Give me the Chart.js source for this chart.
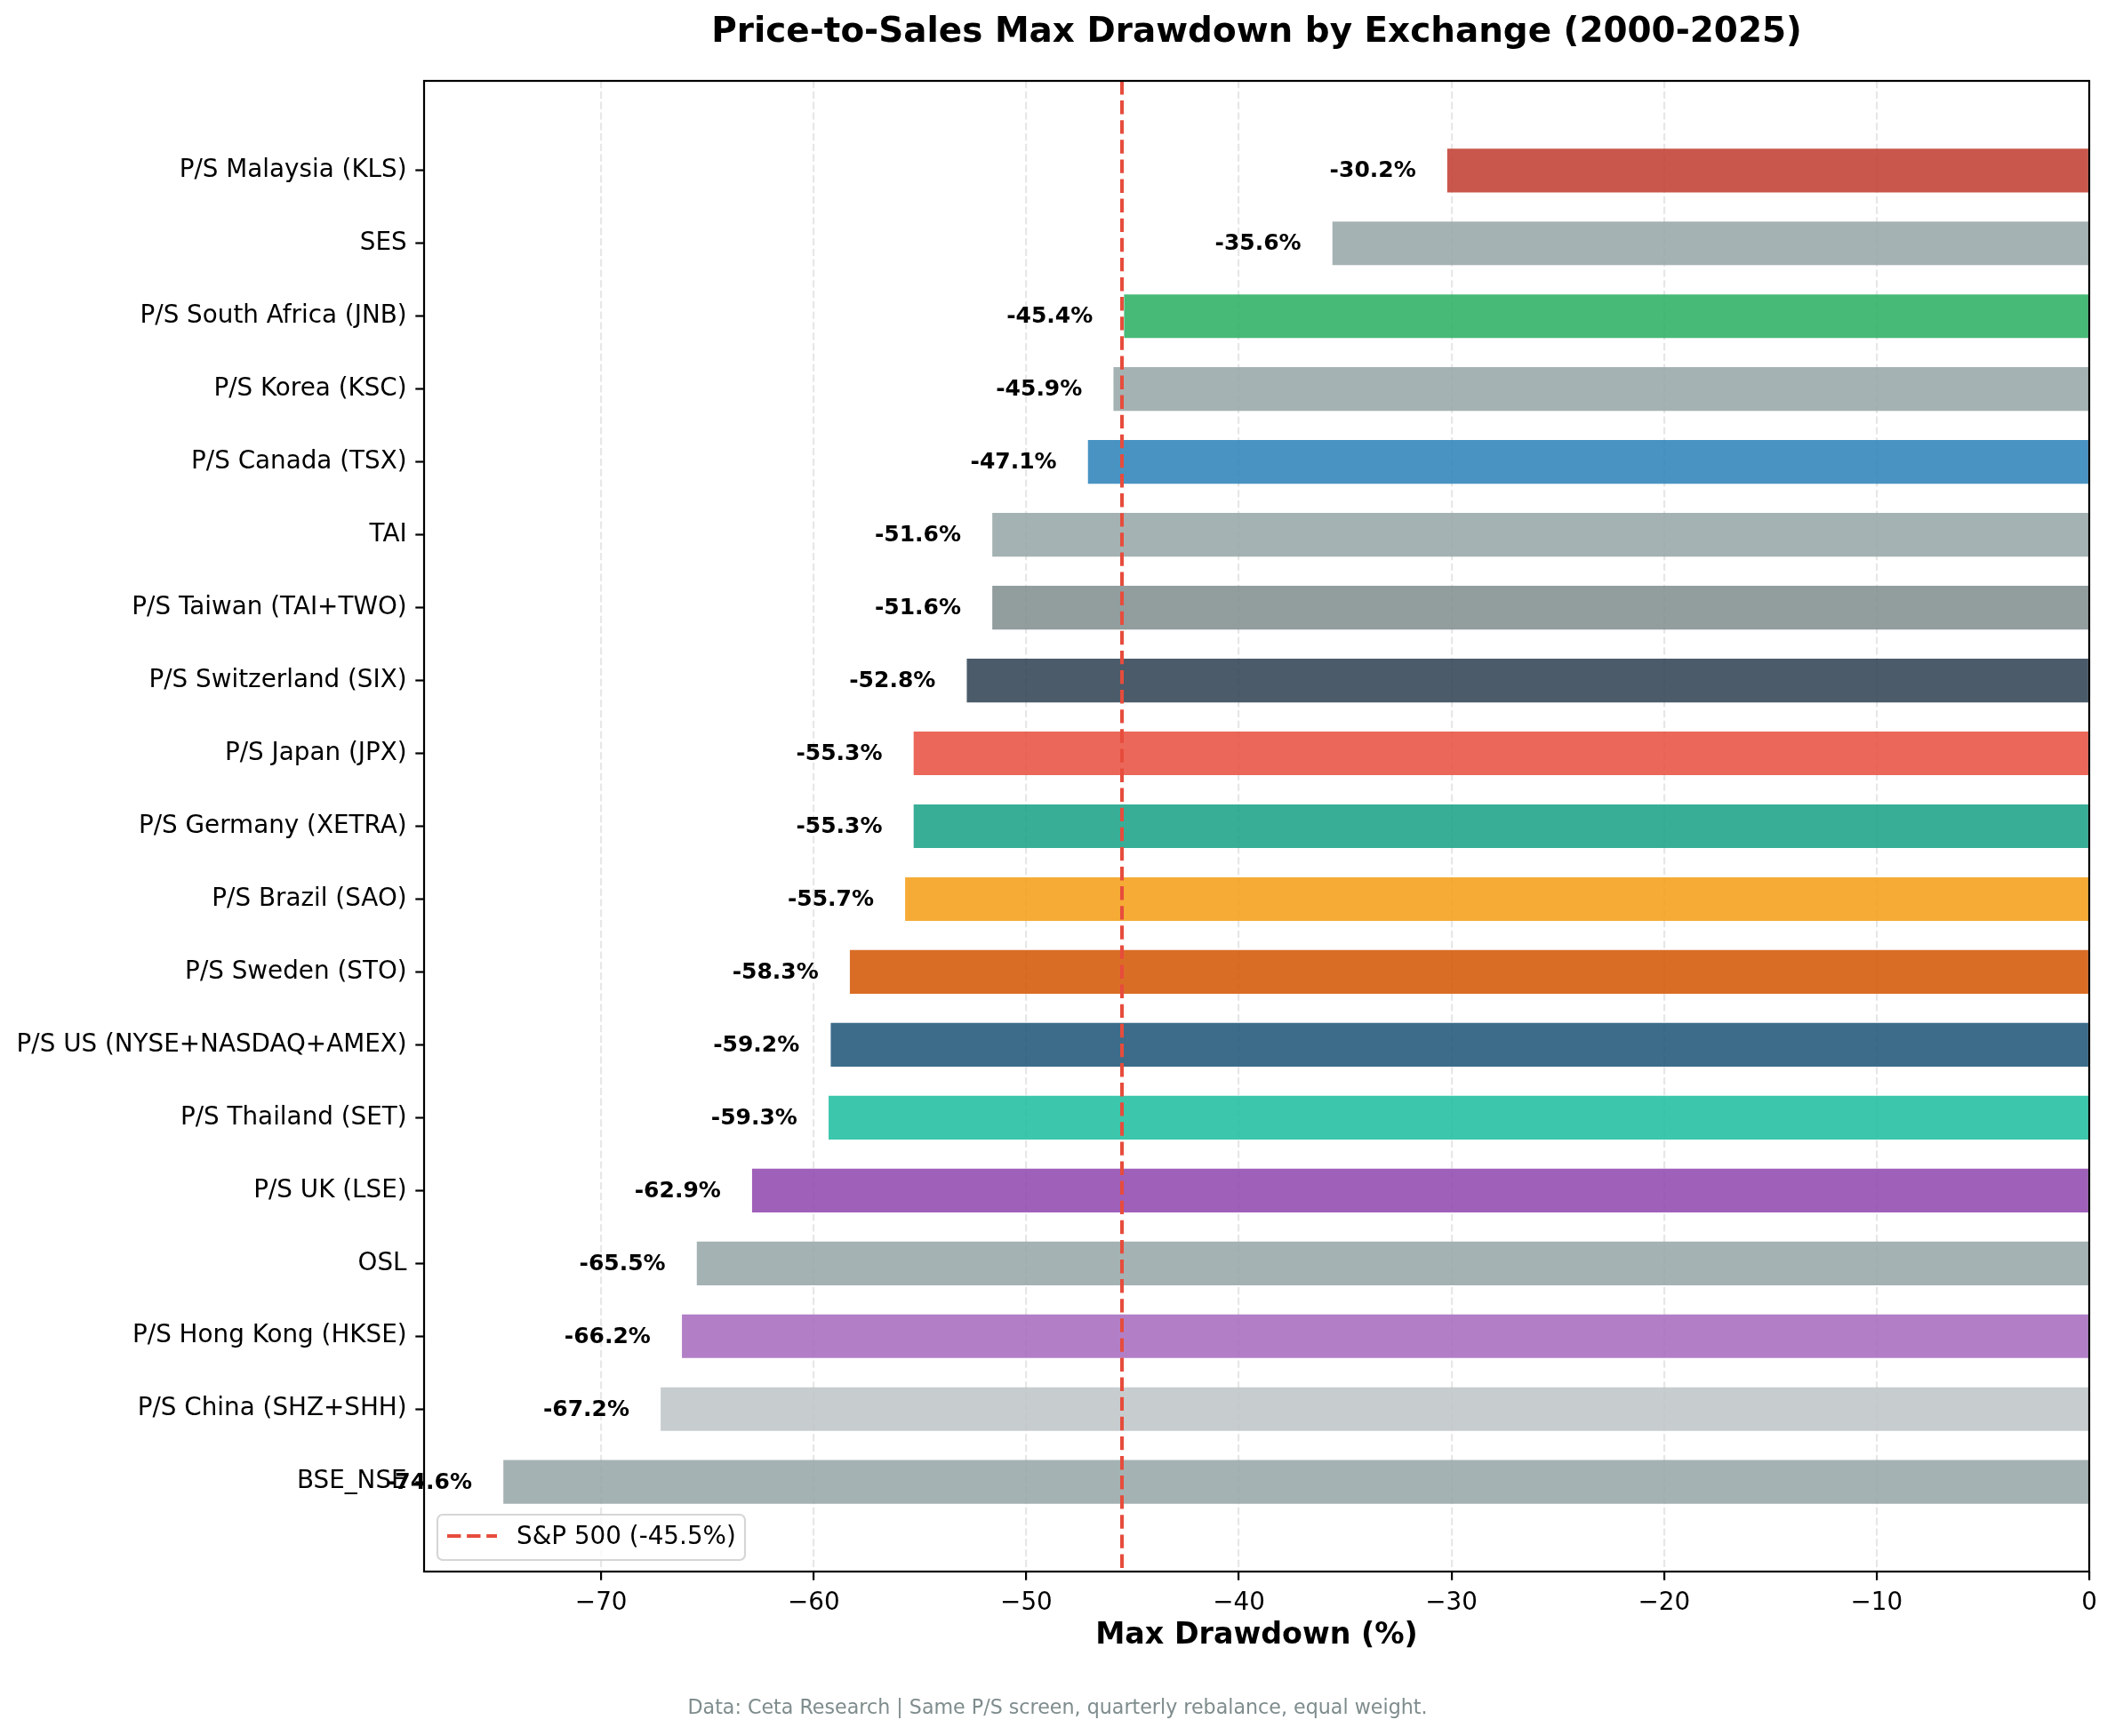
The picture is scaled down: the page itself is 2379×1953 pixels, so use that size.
<!DOCTYPE html>
<html>
<head>
<meta charset="utf-8">
<script src="https://cdn.jsdelivr.net/npm/chart.js@4.4.1/dist/chart.umd.min.js"></script>
<style>
  html, body { margin: 0; padding: 0; background: #ffffff; }
  #wrap { width: 2379px; height: 1953px; }
</style>
</head>
<body>
<div id="wrap"><canvas id="c" width="2379" height="1953" style="width:2379px;height:1953px;"></canvas></div>
<script>
// ---- data (top to bottom) ----
const categories = [
  "P/S Malaysia (KLS)", "SES", "P/S South Africa (JNB)", "P/S Korea (KSC)", "P/S Canada (TSX)",
  "TAI", "P/S Taiwan (TAI+TWO)", "P/S Switzerland (SIX)", "P/S Japan (JPX)", "P/S Germany (XETRA)",
  "P/S Brazil (SAO)", "P/S Sweden (STO)", "P/S US (NYSE+NASDAQ+AMEX)", "P/S Thailand (SET)", "P/S UK (LSE)",
  "OSL", "P/S Hong Kong (HKSE)", "P/S China (SHZ+SHH)", "BSE_NSE"
];
const drawdowns = [
  -30.2, -35.6, -45.4, -45.9, -47.1,
  -51.6, -51.6, -52.8, -55.3, -55.3,
  -55.7, -58.3, -59.2, -59.3, -62.9,
  -65.5, -66.2, -67.2, -74.6
];
const barColors = [
  "#c0392b", "#95a5a6", "#27ae60", "#95a5a6", "#2980b9",
  "#95a5a6", "#7f8c8d", "#2c3e50", "#e74c3c", "#16a085",
  "#f39c12", "#d35400", "#1a5276", "#1abc9c", "#8e44ad",
  "#95a5a6", "#a569bd", "#bdc3c7", "#95a5a6"
];
const benchmarkValue = -45.5;
const benchmarkLabel = "S&P 500 (-45.5%)";
const xTicks = [-70, -60, -50, -40, -30, -20, -10, 0];
const titleText = "Price-to-Sales Max Drawdown by Exchange (2000-2025)";
const xTitleText = "Max Drawdown (%)";
const footerText = "Data: Ceta Research | Same P/S screen, quarterly rebalance, equal weight.";

// ---- helpers ----
function hexA(hex, a) {
  const n = parseInt(hex.slice(1), 16);
  return `rgba(${(n >> 16) & 255},${(n >> 8) & 255},${n & 255},${a})`;
}
const FONT = "'DejaVu Sans', sans-serif";
Chart.defaults.font.family = FONT;
Chart.defaults.color = "#000000";

const xMin = Math.min(...drawdowns) * 1.05;   // matplotlib 5% margin, sticky at 0
const yPad = 1.23;

const barData = drawdowns.map((v, i) => ({ x: v, y: i }));
const lineData = [{ x: benchmarkValue, y: -yPad }, { x: benchmarkValue, y: categories.length - 1 + yPad }];

const overlayPlugin = {
  id: "overlay",
  afterDatasetsDraw(chart) {
    const { ctx, chartArea: a, scales } = chart;
    const xs = scales.x, ys = scales.y;
    ctx.save();
    // value labels
    ctx.font = `bold 25px ${FONT}`;
    ctx.fillStyle = "#000";
    ctx.textAlign = "center";
    ctx.textBaseline = "middle";
    drawdowns.forEach((v, i) => {
      ctx.fillText(v.toFixed(1) + "%", xs.getPixelForValue(v - 3.5), ys.getPixelForValue(i) + 1);
    });
    // spines
    ctx.strokeStyle = "#000";
    ctx.lineWidth = 2.2;
    ctx.strokeRect(a.left, a.top, a.right - a.left, a.bottom - a.top);
    // legend
    const lx = a.left + 15, ly = a.bottom - 64, lw = 346, lh = 51, r = 6;
    ctx.beginPath();
    ctx.moveTo(lx + r, ly);
    ctx.arcTo(lx + lw, ly, lx + lw, ly + lh, r);
    ctx.arcTo(lx + lw, ly + lh, lx, ly + lh, r);
    ctx.arcTo(lx, ly + lh, lx, ly, r);
    ctx.arcTo(lx, ly, lx + lw, ly, r);
    ctx.closePath();
    ctx.fillStyle = "rgba(255,255,255,0.8)";
    ctx.fill();
    ctx.strokeStyle = "rgba(204,204,204,0.8)";
    ctx.lineWidth = 2.2;
    ctx.stroke();
    ctx.beginPath();
    ctx.setLineDash([15.4, 6.7]);
    ctx.strokeStyle = "#e74c3c";
    ctx.lineWidth = 4;
    ctx.moveTo(lx + 11, ly + 24);
    ctx.lineTo(lx + 67, ly + 24);
    ctx.stroke();
    ctx.setLineDash([]);
    ctx.fillStyle = "#000";
    ctx.font = `27.8px ${FONT}`;
    ctx.textAlign = "left";
    ctx.textBaseline = "middle";
    ctx.fillText(benchmarkLabel, lx + 89, ly + 26);
    ctx.restore();
  },
  afterDraw(chart) {
    const { ctx, chartArea: a } = chart;
    ctx.save();
    ctx.fillStyle = "#000";
    ctx.textAlign = "center";
    ctx.textBaseline = "middle";
    ctx.font = `bold 38.9px ${FONT}`;
    ctx.fillText(titleText, (a.left + a.right) / 2, 37);
    ctx.fillStyle = "#7f8c8d";
    ctx.font = `22.2px ${FONT}`;
    ctx.fillText(footerText, chart.width / 2, 1922);
    ctx.restore();
  }
};

new Chart(document.getElementById("c"), {
  type: "bar",
  data: {
    datasets: [
      {
        type: "line",
        label: benchmarkLabel,
        data: lineData,
        borderColor: "#e74c3c",
        borderWidth: 4,
        borderDash: [15.4, 6.7],
        pointRadius: 0,
        fill: false,
        order: 0
      },
      {
        type: "bar",
        label: "Max Drawdown",
        indexAxis: "y",
        data: barData,
        backgroundColor: barColors.map(c => hexA(c, 0.85)),
        borderWidth: 0,
        barPercentage: 0.6,
        categoryPercentage: 1.0,
        order: 1
      }
    ]
  },
  options: {
    responsive: false,
    animation: false,
    devicePixelRatio: 1,
    indexAxis: "y",
    layout: { padding: { left: 0, right: 29, top: 91, bottom: 93 } },
    plugins: { legend: { display: false }, tooltip: { enabled: false }, title: { display: false } },
    scales: {
      x: {
        type: "linear",
        position: "bottom",
        min: xMin,
        max: 0,
        offset: false,
        afterBuildTicks: (s) => { s.ticks = xTicks.map(v => ({ value: v })); },
        afterFit: (s) => { s.height = 92; },
        border: { display: false, dash: [8.2, 3.6] },
        grid: {
          offset: false,
          color: "rgba(176,176,176,0.3)",
          lineWidth: 2.2,
          drawTicks: true,
          tickLength: 9.7,
          tickColor: "#000",
          tickWidth: 2.2,
          tickBorderDash: []
        },
        ticks: {
          autoSkip: false,
          padding: 9.7,
          font: { size: 27.8 },
          color: "#000",
          maxRotation: 0,
          callback: (v) => String(v).replace("-", "\u2212")
        },
        title: {
          display: true,
          text: xTitleText,
          font: { size: 33.3, weight: "bold" },
          color: "#000",
          padding: { top: 0, bottom: 0 }
        }
      },
      y: {
        type: "linear",
        position: "left",
        reverse: true,
        offset: false,
        min: -yPad,
        max: categories.length - 1 + yPad,
        afterBuildTicks: (s) => { s.ticks = categories.map((c, i) => ({ value: i })); },
        afterFit: (s) => { s.width = 477; },
        border: { display: false },
        grid: {
          offset: false,
          drawOnChartArea: false,
          drawTicks: true,
          tickLength: 9.7,
          tickColor: "#000",
          tickWidth: 2.2,
          color: "#000"
        },
        ticks: {
          autoSkip: false,
          padding: 9.7,
          font: { size: 27.8 },
          color: "#000",
          callback: (v) => categories[v]
        }
      }
    }
  },
  plugins: [overlayPlugin]
});
</script>
</body>
</html>
